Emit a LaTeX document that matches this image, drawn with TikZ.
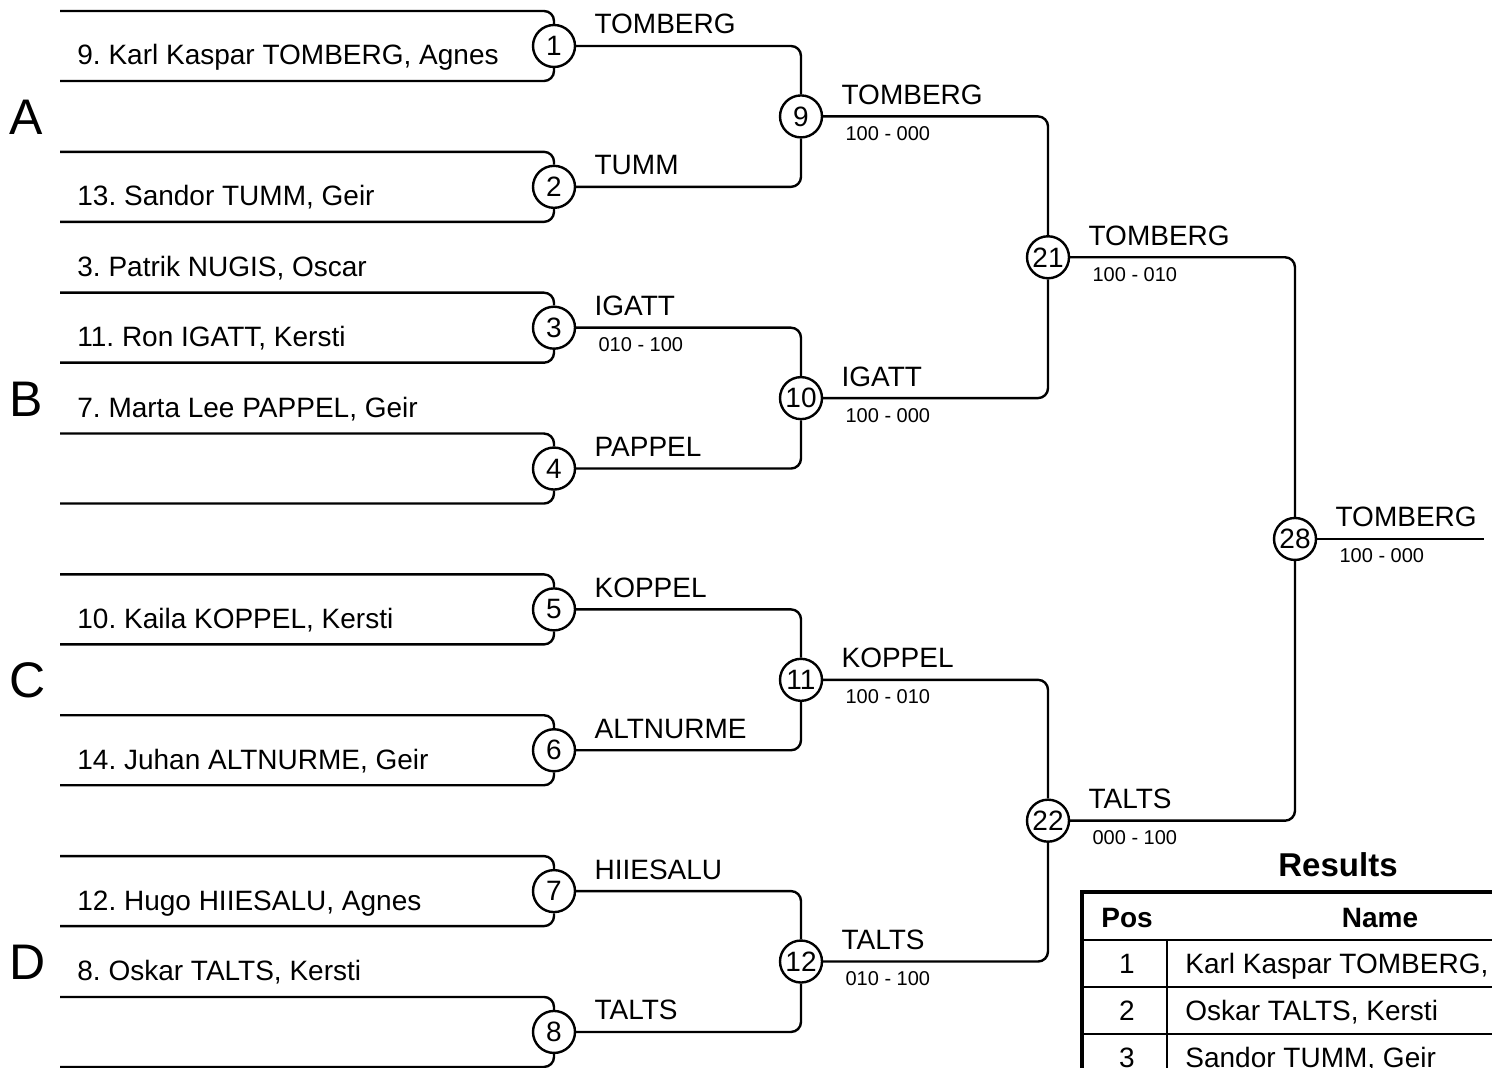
\documentclass[tikz,border=0pt]{standalone}
\usepackage{fontspec}
\setmainfont{Liberation Sans}
\usetikzlibrary{positioning,calc}
\frenchspacing

\begin{document}
\begin{tikzpicture}[x=0.5pt, y=-0.5pt,
  matchnode/.style={circle, draw, line width=1.2pt, minimum size=21pt,
                    inner sep=0pt, font=\fontsize{14}{16}\selectfont},
  bracket/.style={draw, line width=1.2pt, rounded corners=5pt},
  player/.style={anchor=base west, inner sep=0pt, font=\fontsize{14}{16}\selectfont},
  winner/.style={anchor=base west, inner sep=0pt, font=\fontsize{14}{16}\selectfont},
  score/.style={anchor=base west, inner sep=0pt, font=\fontsize{10}{12}\selectfont},
  grouplabel/.style={anchor=base west, inner sep=0pt, font=\fontsize{25}{30}\selectfont},
  tablehead/.style={anchor=base, inner sep=0pt, font=\fontsize{14}{16}\selectfont\bfseries},
  tablecell/.style={inner sep=0pt, font=\fontsize{14}{16}\selectfont},
  tablerule/.style={draw, line width=1pt},
]
  \useasboundingbox (0,0) rectangle (1492,1068);
  \clip (0,0) rectangle (1492,1068);

  % ========= ROUND 1 =========
  \foreach \i in {1,...,8} {
    \pgfmathsetmacro{\cy}{46+140.85*(\i-1)}
    \node[matchnode] (m\i) at (554,\cy) {\i};
    \draw[bracket] (60,\cy-35) -- (554,\cy-35) -- (m\i.north);
    \draw[bracket] (60,\cy+35) -- (554,\cy+35) -- (m\i.south);
  }

  % Players (above their lines)
  \foreach \m/\dy/\pname in {1/19/{9. Karl Kaspar TOMBERG, Agnes},
                             2/19/{13. Sandor TUMM, Geir},
                             3/-51/{3. Patrik NUGIS, Oscar},
                             3/19/{11. Ron IGATT, Kersti},
                             4/-51/{7. Marta Lee PAPPEL, Geir},
                             5/19/{10. Kaila KOPPEL, Kersti},
                             6/19/{14. Juhan ALTNURME, Geir},
                             7/19/{12. Hugo HIIESALU, Agnes},
                             8/-51/{8. Oskar TALTS, Kersti}}
    \node[player] at ($(m\m)+(-477,\dy)$) {\pname};

  % ========= LATER ROUNDS =========
  \foreach \i/\a/\b in {9/1/2, 10/3/4, 11/5/6, 12/7/8, 21/9/10, 22/11/12, 28/21/22} {
    \node[matchnode] (m\i) at ($(m\a)!0.5!(m\b)+(247,0)$) {\i};
    \draw[bracket] (m\a.east) -| (m\i.north);
    \draw[bracket] (m\b.east) -| (m\i.south);
  }
  \draw[bracket] (m28.east) -- ++(167,0) coordinate (champ);

  % Winners and scores
  \foreach \i/\w in {1/TOMBERG, 2/TUMM, 3/IGATT, 4/PAPPEL, 5/KOPPEL, 6/ALTNURME,
                     7/HIIESALU, 8/TALTS, 9/TOMBERG, 10/IGATT, 11/KOPPEL, 12/TALTS,
                     21/TOMBERG, 22/TALTS, 28/TOMBERG}
    \node[winner] (w\i) at ($(m\i.east)+(18,-12)$) {\w};
  \foreach \i/\s in {3/010 - 100, 9/100 - 000, 10/100 - 000, 11/100 - 010,
                     12/010 - 100, 21/100 - 010, 22/000 - 100, 28/100 - 000}
    \node[score] (s\i) at ($(m\i.east)+(22,24)$) {\s};

  % Group letters
  \foreach \g/\m in {A/9, B/10, C/11, D/12}
    \node[grouplabel] (grp\g) at ($(m\m)+(-792,18)$) {\g};

  % ========= RESULTS TABLE =========
  \node[anchor=base, inner sep=0pt, font=\fontsize{16.5}{20}\selectfont\bfseries]
       (restitle) at (1338,876) {Results};
  \draw[line width=2pt] (1600,892) -- (1082,892) -- (1082,1100);
  \foreach \ry in {940,987,1034}
    \draw[tablerule] (1082,\ry) -- (1600,\ry);
  \draw[tablerule] (1167,940) -- (1167,1100);
  \node[tablehead] (hpos) at (1127,927) {Pos};
  \node[tablehead] (hname) at (1380,927) {Name};
  \foreach \r/\who [count=\k] in {1/{Karl Kaspar TOMBERG, Agnes},
                                   2/{Oskar TALTS, Kersti},
                                   3/{Sandor TUMM, Geir}} {
    \pgfmathsetmacro{\by}{973+47*(\k-1)}
    \node[tablecell, anchor=base] (pos\k) at (1127,\by) {\r};
    \node[tablecell, anchor=base west] (res\k) at (1185,\by) {\who};
  }

\end{tikzpicture}
\end{document}
